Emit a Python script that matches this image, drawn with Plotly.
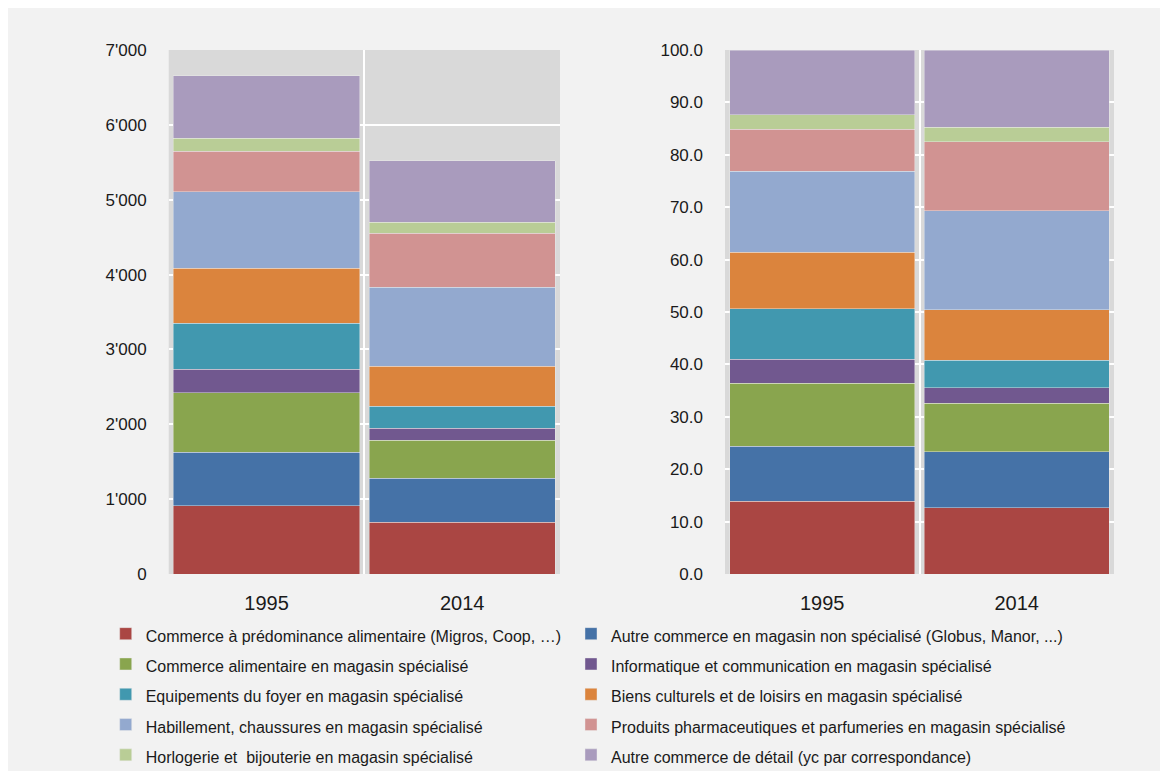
import plotly.graph_objects as go

years = ["1995", "2014"]

categories = [
    "Commerce à prédominance alimentaire (Migros, Coop, …)",
    "Autre commerce en magasin non spécialisé (Globus, Manor, ...)",
    "Commerce alimentaire en magasin spécialisé",
    "Informatique et communication en magasin spécialisé",
    "Equipements du foyer en magasin spécialisé",
    "Biens culturels et de loisirs en magasin spécialisé",
    "Habillement, chaussures en magasin spécialisé",
    "Produits pharmaceutiques et parfumeries en magasin spécialisé",
    "Horlogerie et  bijouterie en magasin spécialisé",
    "Autre commerce de détail (yc par correspondance)",
]

colors = ["#AA4643", "#4572A7", "#89A54E", "#71588F", "#4198AF",
          "#DB843D", "#93A9CF", "#D19392", "#B9CD96", "#A99BBD"]

# absolute values (left chart), per category: [1995, 2014]
values_abs = [
    [911, 692],
    [713, 588],
    [797, 504],
    [312, 165],
    [619, 294],
    [731, 534],
    [1025, 1056],
    [542, 721],
    [174, 147],
    [834, 821],
]

# shares in % (right chart), per category: [1995, 2014]
values_pct = [
    [13.9, 12.6],
    [10.5, 10.7],
    [12.0, 9.3],
    [4.6, 2.9],
    [9.6, 5.3],
    [10.8, 9.6],
    [15.5, 18.9],
    [8.0, 13.2],
    [2.7, 2.8],
    [12.4, 14.7],
]

left_ticks = [0, 1000, 2000, 3000, 4000, 5000, 6000, 7000]
right_ticks = [0, 10, 20, 30, 40, 50, 60, 70, 80, 90, 100]

FONT = "Liberation Sans, Arial, sans-serif"
W, H = 1168, 771

fig = go.Figure()
line = dict(width=0.8, color="rgba(235,235,235,0.55)")
for i, (name, col, va) in enumerate(zip(categories, colors, values_abs)):
    fig.add_trace(go.Bar(
        x=years, y=va, name=f"<span style='font-size:16px'>{name}</span>",
        marker=dict(color=col, line=line),
        xaxis="x", yaxis="y", showlegend=True,
        legend="legend" if i % 2 == 0 else "legend2", hoverinfo="skip"))
for name, col, vp in zip(categories, colors, values_pct):
    fig.add_trace(go.Bar(
        x=years, y=vp, name=name,
        marker=dict(color=col, line=line),
        xaxis="x2", yaxis="y2", showlegend=False, hoverinfo="skip"))

common_x = dict(
    type="category", tickson="boundaries", showgrid=True, gridcolor="white",
    gridwidth=1.5, ticks="", showline=False, zeroline=False,
    tickfont=dict(family=FONT, size=20, color="#1a1a1a"), ticklabelstandoff=15,
)
common_y = dict(
    showgrid=True, gridcolor="white", gridwidth=1.5, zeroline=False,
    showline=False, ticks="", tickfont=dict(family=FONT, size=17, color="#1a1a1a"),
    ticklabelstandoff=21,
)

leg_common = dict(
    orientation="v", xanchor="left", yref="container", y=1 - 605.5 / H, yanchor="top",
    traceorder="normal", font=dict(family=FONT, size=21, color="#1a1a1a"),
    bgcolor="rgba(0,0,0,0)", itemclick=False, itemdoubleclick=False,
)

fig.update_layout(
    width=W, height=H,
    margin=dict(l=0, r=0, t=41.5, b=H - 565.6, autoexpand=False),
    paper_bgcolor="#F2F2F2",
    plot_bgcolor="#D9D9D9",
    barmode="stack",
    bargap=0.048,
    separators=".'",
    xaxis=dict(domain=[160.7 / W, 552 / W], anchor="y", **common_x),
    xaxis2=dict(domain=[717 / W, 1106 / W], anchor="y2", **common_x),
    yaxis=dict(anchor="x", range=[0, 7000], tickvals=left_ticks,
               tickformat=",d", **common_y),
    yaxis2=dict(anchor="x2", range=[0, 100], tickvals=right_ticks,
                tickformat=".1f", **common_y),
    legend=dict(x=97.7 / W, **leg_common),
    legend2=dict(x=563 / W, **leg_common),
    showlegend=True,
)

fig.write_html("out.html")
